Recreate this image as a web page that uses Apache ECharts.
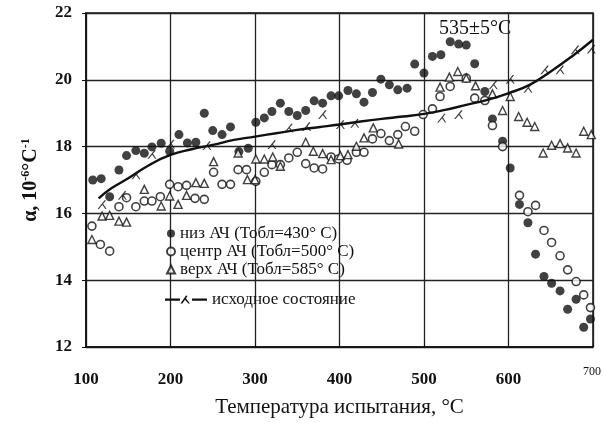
<!DOCTYPE html>
<html>
<head>
<meta charset="utf-8">
<script src="https://cdn.jsdelivr.net/npm/echarts@6/dist/echarts.min.js"></script>
<style>
  html, body { margin: 0; padding: 0; background: #fff; }
  #chart { width: 603px; height: 423px; }
</style>
</head>
<body>
<div id="chart"></div>
<script>
// точки: [температура, alpha]
var nizData = [[108,17.0],[118,17.04],[128,16.5],[139,17.3],[148,17.73],[159,17.88],[169,17.8],[178,17.99],[189,18.1],[199,17.86],
  [210,18.36],[220,18.11],[230,18.13],[240,19.0],[250,18.48],[261,18.36],[271,18.59],[281,17.85],[292,17.95],[301,18.73],
  [311,18.86],[320,19.05],[330,19.3],[340,19.05],[350,18.93],[360,19.08],[370,19.37],[380,19.3],[390,19.52],[399,19.52],
  [410,19.68],[420,19.58],[429,19.33],[439,19.62],[449,20.02],[459,19.85],[469,19.7],[480,19.75],[489,20.47],[500,20.2],
  [510,20.7],[520,20.75],[531,21.14],[541,21.07],[550,21.04],[560,20.48],[572,19.65],[581,18.83],[593,18.16],[602,17.36],
  [613,16.27],[623,15.72],[632,14.78],[642,14.11],[651,13.91],[661,13.68],[670,13.13],[680,13.43],[689,12.59],[697,12.84]];

var centrData = [[107,15.62],[117,15.07],[128,14.87],[139,16.2],[148,16.47],[159,16.2],[169,16.37],[178,16.37],[188,16.5],[199,16.87],
  [209,16.8],[219,16.84],[229,16.45],[240,16.42],[251,17.23],[261,16.87],[271,16.87],[280,17.31],[290,17.31],[301,16.96],
  [311,17.23],[320,17.46],[330,17.46],[340,17.66],[350,17.83],[360,17.49],[370,17.36],[380,17.33],[390,17.69],[399,17.63],
  [409,17.59],[420,17.83],[429,17.83],[439,18.23],[449,18.39],[459,18.18],[469,18.36],[478,18.6],[489,18.46],[499,18.96],
  [510,19.13],[519,19.5],[531,19.8],[550,20.05],[560,19.45],[572,19.38],[581,18.63],[593,18.0],[613,16.54],[623,16.05],
  [632,16.24],[642,15.49],[651,15.13],[661,14.73],[670,14.31],[680,13.96],[689,13.56],[697,13.18]];

var verkhData = [[107,15.22],[119,15.92],[128,15.94],[139,15.77],[148,15.74],[169,16.72],[189,16.22],[199,16.52],[209,16.27],[219,16.54],
  [230,16.92],[240,16.9],[251,17.55],[280,17.81],[291,17.01],[300,17.01],[301,17.63],[311,17.63],[321,17.69],[330,17.41],
  [360,18.13],[369,17.86],[380,17.79],[390,17.61],[401,17.73],[410,17.76],[420,18.01],[429,18.26],[440,18.56],[470,18.08],
  [519,19.78],[530,20.08],[540,20.25],[550,20.05],[561,19.82],[581,19.58],[593,19.08],[602,19.5],[612,18.9],[622,18.73],
  [631,18.6],[641,17.81],[651,18.04],[661,18.09],[670,17.96],[680,17.81],[689,18.46],[698,18.36]];

// исходное состояние: кривая и отдельные метки
var iskhLine = [[115,16.45],[130,16.75],[150,17.05],[175,17.45],[200,17.75],[225,17.92],[250,18.05],[275,18.2],[300,18.3],
  [325,18.4],[350,18.5],[375,18.58],[400,18.66],[425,18.75],[450,18.83],[475,18.9],[500,18.98],[525,19.1],[550,19.25],
  [575,19.4],[600,19.6],[625,19.85],[650,20.25],[675,20.7],[700,21.2]];
var iskhMarks = [[119,16.27],[143,16.54],[159,17.16],[178,17.77],[200,18.08],[243,18.03],[320,18.06],[340,18.56],[361,18.6],
  [380,18.96],[401,18.66],[418,18.7],[521,18.86],[541,18.96],[582,19.85],[602,20.02],[623,19.75],[643,20.3],[661,20.3],
  [679,20.9],[698,20.92]];

var names = ['низ АЧ (Тобл=430° С)', 'центр АЧ (Тобл=500° С)', 'верх АЧ (Тобл=585° С)', 'исходное состояние'];
var xTicks = [100, 200, 300, 400, 500, 600, 700];

var serif = 'Liberation Serif';
var lambdaPath = 'path://M0,10 L8,0 L9.3,0.8 L1.6,10 Z M4.6,4.6 L5.8,3.8 L10,10 L8.6,10 Z';
var legendLinePath = 'path://M0,4 L15,4 L15,6.2 L0,6.2 Z M27,4 L42,4 L42,6.2 L27,6.2 Z M15.5,9 L21,1 L22.6,1.6 L17.4,9 Z M19.4,4.6 L20.6,3.6 L25,9 L23.4,9 Z';

var chart = echarts.init(document.getElementById('chart'));

var option = {
    backgroundColor: '#fff',
    animation: false,
    grid: {
        left: 86, right: 10, top: 13, bottom: 75,
        show: true, borderColor: '#111', borderWidth: 1.5
    },
    legend: [
        {
            left: 161, top: 220, orient: 'vertical',
            itemWidth: 8, itemHeight: 8, itemGap: 1,
            textStyle: { fontFamily: serif, fontSize: 17, color: '#111', lineHeight: 17 },
            data: names.slice(0, 3)
        },
        {
            left: 160, top: 286,
            itemWidth: 42, itemHeight: 9,
            textStyle: { fontFamily: serif, fontSize: 17, color: '#111' },
            data: [{ name: names[3], icon: legendLinePath }]
        }
    ],
    xAxis: {
        type: 'value', min: 100, max: 700, interval: 100,
        name: 'Температура испытания, °С',
        nameLocation: 'middle', nameGap: 50,
        nameTextStyle: { fontFamily: serif, fontSize: 21, color: '#111' },
        axisLine: { lineStyle: { color: '#111', width: 1.5 } },
        axisTick: { inside: true, length: 4, lineStyle: { color: '#111' } },
        axisLabel: {
            margin: 24, fontFamily: serif, fontSize: 17, fontWeight: 'bold', color: '#111',
            formatter: function (v) { return v === 700 ? '' : String(v); }
        },
        splitLine: { show: true, lineStyle: { color: '#222', width: 1.3 } }
    },
    yAxis: {
        type: 'value', min: 12, max: 22, interval: 2,
        name: '{b|α, 10}{s|-6}{b|°C}{s|-1}',
        nameLocation: 'middle', nameGap: 44, nameRotate: 90,
        nameTextStyle: {
            rich: {
                b: { fontFamily: serif, fontSize: 20, fontWeight: 'bold', color: '#111' },
                s: { fontFamily: serif, fontSize: 12, fontWeight: 'bold', color: '#111', verticalAlign: 'bottom', padding: [0, 0, 10, 0] }
            }
        },
        axisLine: { show: true, lineStyle: { color: '#111', width: 1.5 } },
        axisTick: { show: true, length: 4, lineStyle: { color: '#111' } },
        axisLabel: { margin: 14, fontFamily: serif, fontSize: 17, fontWeight: 'bold', color: '#111' },
        splitLine: { show: true, lineStyle: { color: '#222', width: 1.3 } }
    },
    graphic: [
        {
            type: 'text', left: 439, top: 19,
            style: { text: '535±5°С', fontFamily: serif, fontSize: 20, fill: '#111' }
        },
        {
            type: 'text', left: 583, top: 366,
            style: { text: String(xTicks[6]), fontFamily: serif, fontSize: 12, fill: '#111' }
        }
    ],
    series: [
        {
            name: names[0], type: 'scatter', data: nizData,
            symbol: 'circle', symbolSize: 9,
            itemStyle: { color: '#111' }
        },
        {
            name: names[1], type: 'scatter', data: centrData,
            symbol: 'circle', symbolSize: 8,
            itemStyle: { color: '#fff', borderColor: '#111', borderWidth: 1.6 }
        },
        {
            name: names[2], type: 'scatter', data: verkhData,
            symbol: 'triangle', symbolSize: 8,
            itemStyle: { color: '#fff', borderColor: '#111', borderWidth: 1.4 }
        },
        {
            name: names[3], type: 'line', data: iskhLine,
            smooth: true, showSymbol: false, symbol: 'none',
            lineStyle: { color: '#111', width: 2.4 },
            itemStyle: { color: '#111' }
        },
        {
            name: 'метки', type: 'scatter', data: iskhMarks,
            symbol: lambdaPath, symbolSize: [9, 9],
            itemStyle: { color: '#111' }
        }
    ]
};

chart.setOption(option);
</script>
</body>
</html>
